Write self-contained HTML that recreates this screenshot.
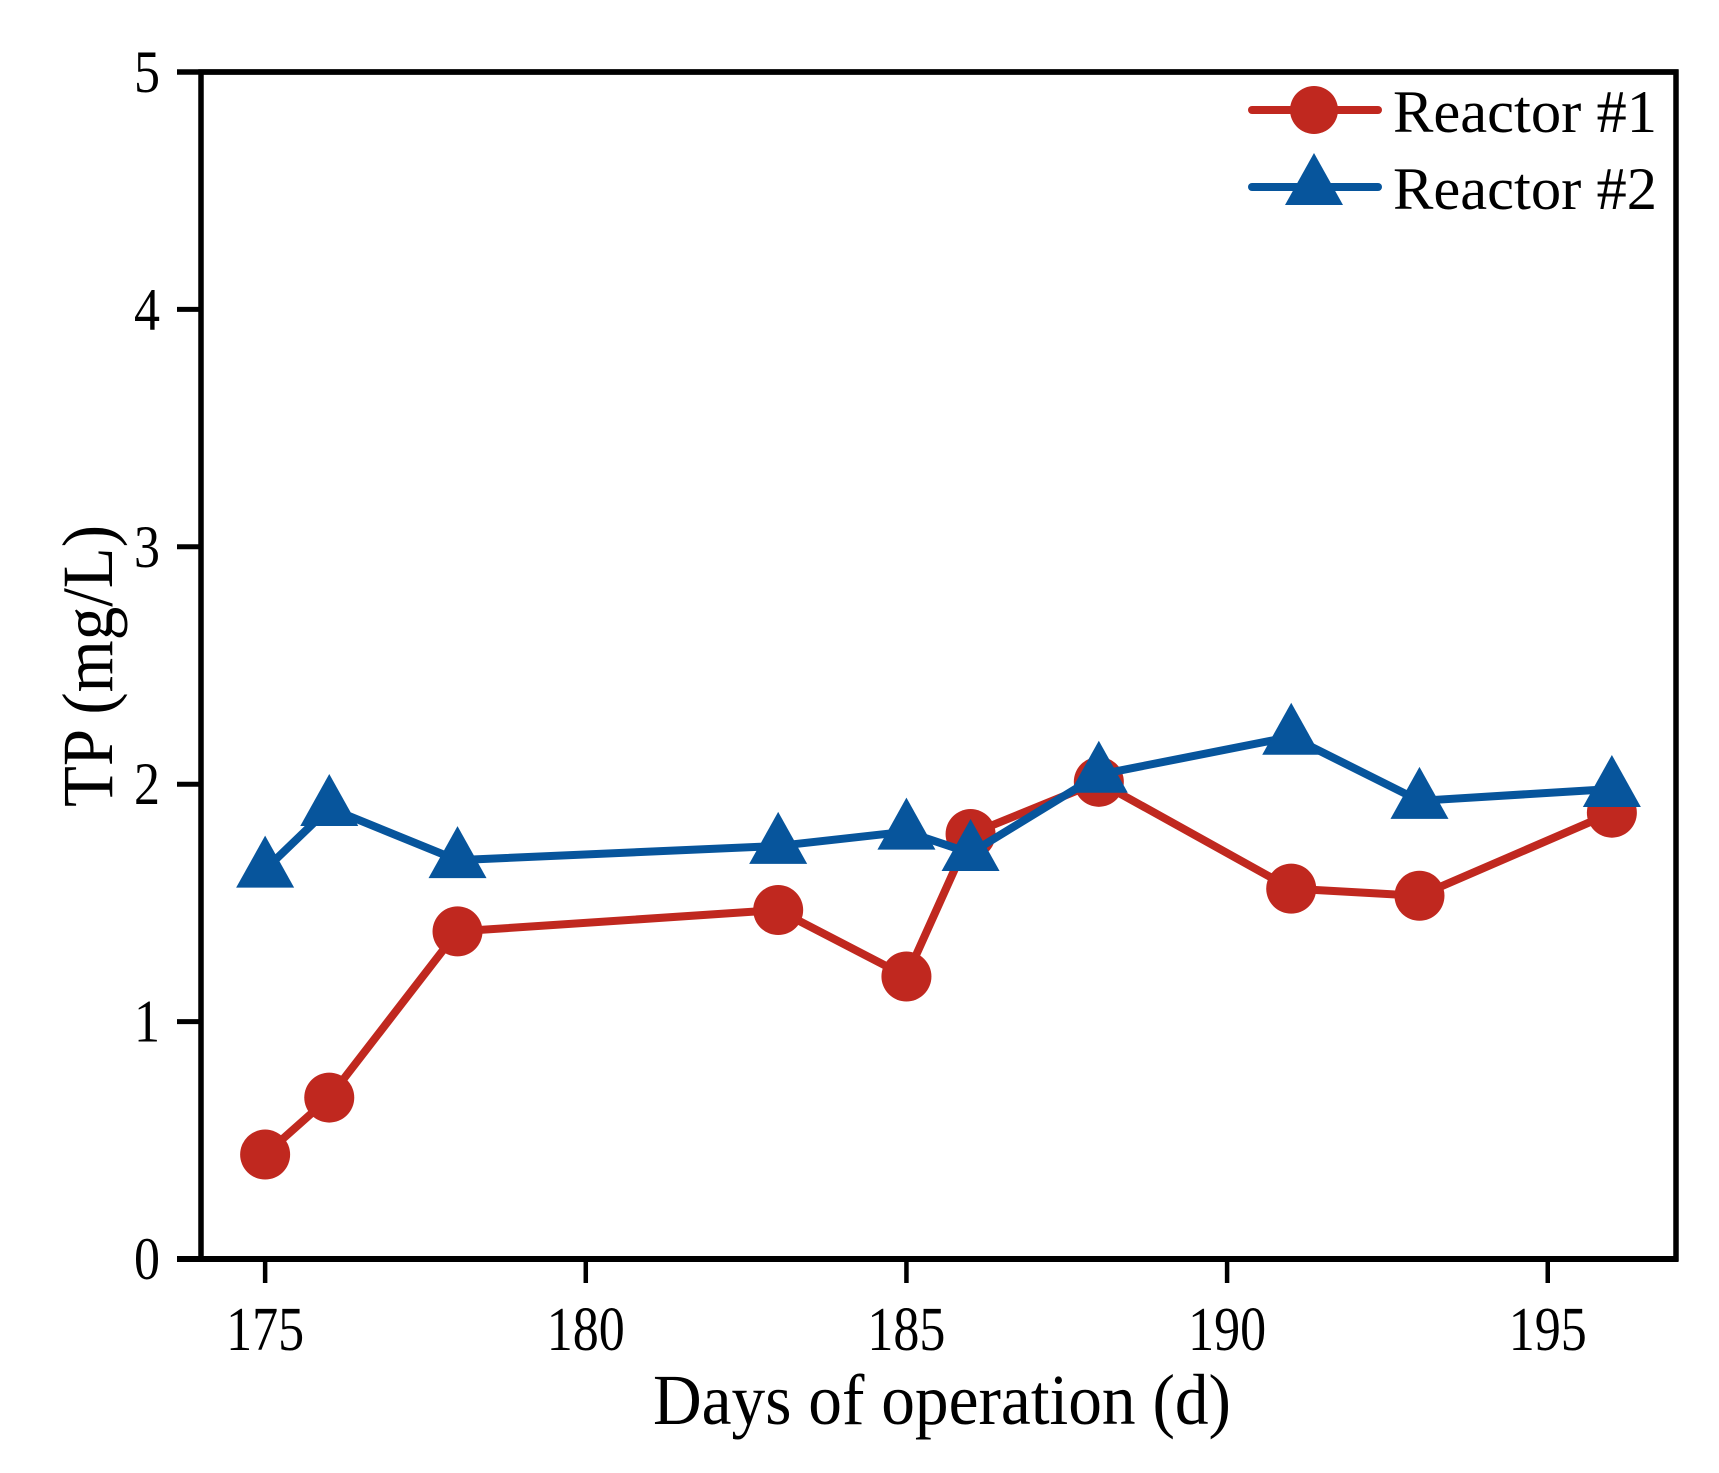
<!DOCTYPE html>
<html><head><meta charset="utf-8"><style>
html,body{margin:0;padding:0;background:#fff;}
svg{display:block;font-family:"Liberation Serif",serif;}
</style></head><body>
<svg id="chart" width="1719" height="1473" viewBox="0 0 1719 1473">
<g id="axes"></g>
<g id="series"></g>
<g id="legend"></g>
</svg>
<script>
const days = [175,176,178,183,185,186,188,191,193,196];
const reactor1 = [0.44,0.68,1.38,1.47,1.19,1.79,2.01,1.56,1.53,1.88];
const reactor2 = [1.64,1.90,1.68,1.74,1.80,1.71,2.04,2.20,1.93,1.98];
const xTicks = [175,180,185,190,195];
const yTicks = [0,1,2,3,4,5];
const xDomain = [174,197];
const yDomain = [0,5];

const L=201, R=1676, T=72, B=1259;
const NS='http://www.w3.org/2000/svg';
const xs = v => L + (v-xDomain[0])/(xDomain[1]-xDomain[0])*(R-L);
const ys = v => B - (v-yDomain[0])/(yDomain[1]-yDomain[0])*(B-T);
function mk(tag, attrs, parent){const e=document.createElementNS(NS,tag);for(const k in attrs)e.setAttribute(k,attrs[k]);parent.appendChild(e);return e;}
const axes=document.getElementById('axes'), series=document.getElementById('series'), legend=document.getElementById('legend');

let frame=mk('rect',{x:L,y:T,width:R-L,height:B-T,fill:'none',stroke:'#000','stroke-width':5.5},axes);


let bx=mk('line',{x1:177,y1:B,x2:R+2,y2:B,stroke:'#000','stroke-width':6},axes);


let tx=mk('line',{x1:177,y1:T,x2:R+2,y2:T,stroke:'#000','stroke-width':5.5},axes);



xTicks.forEach(v=>{
  const t=mk('line',{x1:xs(v),y1:B,x2:xs(v),y2:B+24,stroke:'#000','stroke-width':4.5},axes);
  
  
  const l=mk('text',{x:xs(v),y:1350,'text-anchor':'middle','font-size':62,textLength:78,lengthAdjust:'spacingAndGlyphs'},axes);
  
  
  l.textContent=v;
});
yTicks.forEach(v=>{
  const t=mk('line',{x1:177,y1:ys(v),x2:L,y2:ys(v),stroke:'#000','stroke-width':5},axes);
  
  
  const l=mk('text',{x:160,y:ys(v)+20,'text-anchor':'end','font-size':60,textLength:26,lengthAdjust:'spacingAndGlyphs'},axes);
  
  
  l.textContent=v;
});
let xt=mk('text',{x:942,y:1424,'text-anchor':'middle','font-size':72,textLength:578,lengthAdjust:'spacingAndGlyphs'},axes);


xt.textContent='Days of operation (d)';
let yt=mk('text',{x:0,y:0,'text-anchor':'middle','font-size':72,textLength:282,lengthAdjust:'spacingAndGlyphs',transform:'translate(112,666) rotate(-90)'},axes);


yt.textContent='TP (mg/L)';

const RED='#c0281f', BLUE='#07559c';
function tri(cx,cy,parent,color){
  return mk('polygon',{points:`${cx},${cy-34} ${cx-29},${cy+18} ${cx+29},${cy+18}`,fill:color},parent);
}
function drawSeries(vals,color,name,marker){
  const g=mk('g',{},series);
  
  
  const pts=days.map((d,i)=>xs(d)+','+ys(vals[i])).join(' ');
  const pl=mk('polyline',{points:pts,fill:'none',stroke:color,'stroke-width':8,'stroke-linejoin':'round'},g);
  
  
  days.forEach((d,i)=>{
    let m;
    if(marker==='circle') m=mk('circle',{cx:xs(d),cy:ys(vals[i]),r:25,fill:color},g);
    else m=tri(xs(d),ys(vals[i]),g,color);
    
    
  });
}
drawSeries(reactor1,RED,'reactor-1','circle');
drawSeries(reactor2,BLUE,'reactor-2','triangle');

function legendRow(y,color,marker,label,name){
  const g=mk('g',{},legend);
  
  
  mk('line',{x1:1252,y1:y,x2:1378,y2:y,stroke:color,'stroke-width':8,'stroke-linecap':'round'},g);
  if(marker==='circle') mk('circle',{cx:1314,cy:y,r:24,fill:color},g);
  else tri(1314,y,g,color);
  const t=mk('text',{x:1393,y:y+22,'font-size':60,textLength:264,lengthAdjust:'spacingAndGlyphs'},g);
  t.textContent=label;
}
legendRow(110,RED,'circle','Reactor #1','legend-entry-reactor-1');
legendRow(187,BLUE,'triangle','Reactor #2','legend-entry-reactor-2');
</script>
</body></html>
